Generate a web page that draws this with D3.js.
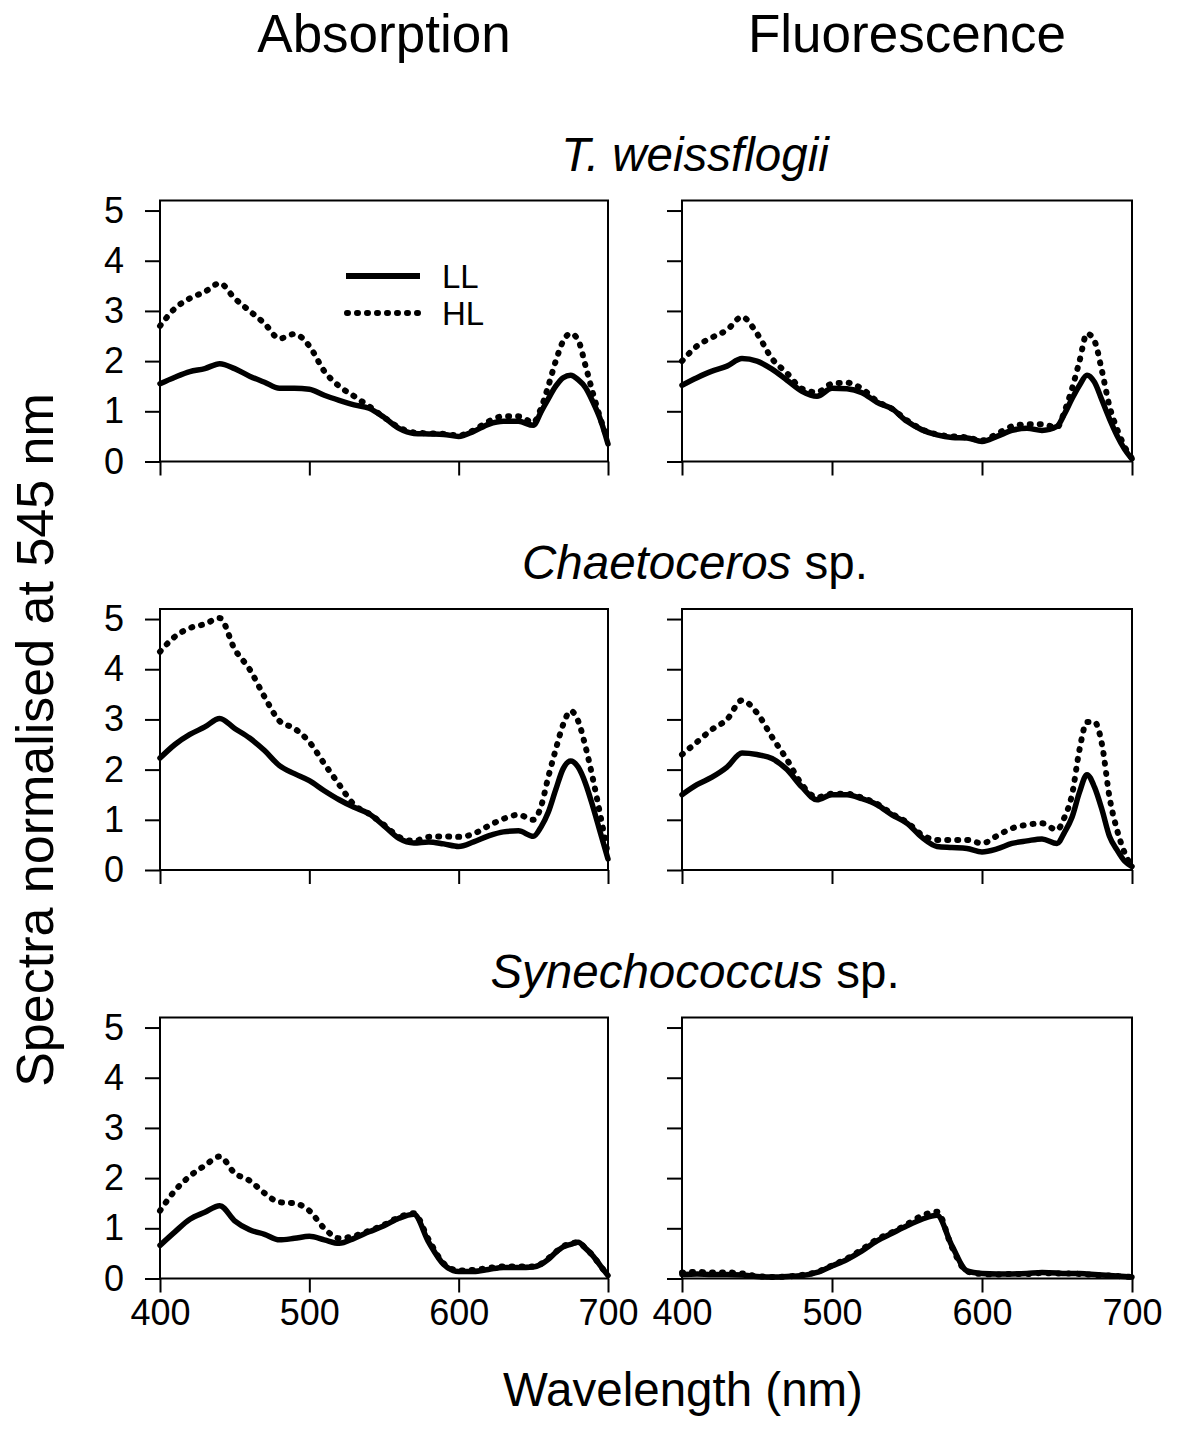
<!DOCTYPE html>
<html>
<head>
<meta charset="utf-8">
<script src="https://cdn.jsdelivr.net/npm/d3@7"></script>
<style>
  html, body { margin: 0; padding: 0; background: #fff; }
  svg { display: block; }
  text { font-family: "Liberation Sans", Arial, Helvetica, sans-serif; fill: #000; }
</style>
</head>
<body>
<svg id="chart" width="1184" height="1443"></svg>
<script>
// ---------------- data ----------------
const wavelengths = [400,410,420,430,440,450,460,470,480,490,500,510,520,530,540,550,560,570,580,590,600,610,620,630,640,650,655,660,665,670,675,680,685,690,695,700];

const columnTitles = ["Absorption", "Fluorescence"];
const species = [
  {italic: "T. weissflogii", plain: ""},
  {italic: "Chaetoceros", plain: " sp."},
  {italic: "Synechococcus", plain: " sp."}
];
const seriesNames = ["LL", "HL"];
const xTicks = [400, 500, 600, 700];
const yTicks = [0, 1, 2, 3, 4, 5];

// T. weissflogii
const twAbsLL = [1.55,1.68,1.79,1.85,1.95,1.85,1.70,1.58,1.46,1.46,1.44,1.32,1.22,1.13,1.06,0.88,0.66,0.56,0.55,0.54,0.50,0.60,0.74,0.80,0.80,0.72,0.98,1.25,1.50,1.67,1.72,1.63,1.47,1.18,0.83,0.35];
const twAbsHL = [2.70,3.05,3.25,3.38,3.55,3.25,3.00,2.75,2.45,2.54,2.30,1.80,1.50,1.30,1.10,0.88,0.68,0.58,0.56,0.55,0.52,0.62,0.80,0.90,0.90,0.78,1.05,1.50,2.00,2.40,2.55,2.42,1.90,1.35,0.85,0.42];
const twFlLL  = [1.52,1.67,1.80,1.90,2.05,2.00,1.84,1.62,1.40,1.30,1.46,1.45,1.37,1.18,1.05,0.80,0.63,0.53,0.48,0.47,0.40,0.50,0.62,0.66,0.62,0.70,0.95,1.25,1.52,1.72,1.58,1.22,0.85,0.52,0.25,0.05];
const twFlHL  = [2.00,2.30,2.47,2.62,2.88,2.55,2.05,1.76,1.45,1.38,1.55,1.57,1.45,1.20,1.05,0.82,0.64,0.54,0.50,0.48,0.42,0.55,0.70,0.74,0.74,0.68,1.00,1.45,2.00,2.55,2.40,1.80,1.10,0.65,0.30,0.06];
// Chaetoceros sp.
const chAbsLL = [2.23,2.50,2.70,2.85,3.02,2.82,2.63,2.38,2.08,1.92,1.78,1.58,1.40,1.25,1.12,0.88,0.63,0.54,0.56,0.52,0.47,0.56,0.68,0.76,0.78,0.67,0.85,1.15,1.60,2.02,2.17,2.05,1.72,1.25,0.73,0.22];
const chAbsHL = [4.35,4.65,4.82,4.90,5.02,4.40,4.00,3.45,2.97,2.82,2.55,2.12,1.70,1.30,1.12,0.90,0.66,0.58,0.66,0.67,0.66,0.72,0.88,1.02,1.10,1.00,1.25,1.85,2.40,2.90,3.17,2.97,2.45,1.80,1.07,0.30];
const chFlLL  = [1.50,1.70,1.85,2.05,2.33,2.30,2.22,2.00,1.65,1.40,1.50,1.50,1.42,1.30,1.10,0.93,0.65,0.47,0.45,0.43,0.36,0.42,0.53,0.58,0.62,0.53,0.75,1.05,1.55,1.90,1.65,1.20,0.67,0.40,0.18,0.07];
const chFlHL  = [2.30,2.55,2.80,3.00,3.38,3.13,2.65,2.20,1.70,1.45,1.52,1.52,1.44,1.32,1.12,0.95,0.70,0.60,0.60,0.60,0.53,0.68,0.83,0.90,0.93,0.80,1.05,1.50,2.40,2.95,2.95,2.50,1.45,0.80,0.35,0.07];
// Synechococcus sp.
const syAbsLL = [0.66,0.93,1.18,1.32,1.45,1.15,0.97,0.88,0.77,0.80,0.84,0.77,0.70,0.80,0.93,1.05,1.20,1.28,0.72,0.28,0.14,0.14,0.18,0.22,0.22,0.23,0.28,0.38,0.52,0.63,0.68,0.72,0.60,0.45,0.25,0.06];
const syAbsHL = [1.35,1.75,2.04,2.25,2.43,2.10,1.95,1.70,1.52,1.50,1.35,1.00,0.80,0.85,0.95,1.07,1.22,1.30,0.77,0.30,0.16,0.17,0.21,0.24,0.24,0.24,0.29,0.40,0.53,0.64,0.70,0.72,0.60,0.45,0.25,0.06];
const syFlLL  = [0.08,0.09,0.08,0.08,0.07,0.04,0.03,0.04,0.06,0.12,0.25,0.38,0.55,0.75,0.90,1.05,1.18,1.26,0.65,0.15,0.10,0.09,0.09,0.10,0.12,0.11,0.10,0.10,0.10,0.09,0.08,0.07,0.06,0.05,0.04,0.03];
const syFlHL  = [0.12,0.13,0.12,0.12,0.10,0.05,0.03,0.04,0.07,0.13,0.26,0.40,0.58,0.78,0.92,1.08,1.25,1.33,0.62,0.14,0.09,0.08,0.09,0.09,0.11,0.10,0.10,0.10,0.09,0.08,0.07,0.06,0.06,0.05,0.04,0.03];

// ---------------- layout ----------------
const colX = [[160, 608], [682, 1132]];
const rowZero = [461.5, 870, 1278.5];
const panelH = 261;           // pixel height of y range [0, 5.2]
const yMax = 5.2;

const panels = [
  {row:0, col:0, LL: twAbsLL, HL: twAbsHL},
  {row:0, col:1, LL: twFlLL,  HL: twFlHL},
  {row:1, col:0, LL: chAbsLL, HL: chAbsHL},
  {row:1, col:1, LL: chFlLL,  HL: chFlHL},
  {row:2, col:0, LL: syAbsLL, HL: syAbsHL},
  {row:2, col:1, LL: syFlLL,  HL: syFlHL}
];

const svg = d3.select("#chart");
const font = '"Liberation Sans", Arial, Helvetica, sans-serif';

// column titles
columnTitles.forEach((t, i) => {
  svg.append("text")
    .attr("x", (colX[i][0] + colX[i][1]) / 2)
    .attr("y", 52)
    .attr("text-anchor", "middle")
    .style("font-size", "53px")
    .text(t);
});

// species titles
species.forEach((s, r) => {
  const top = rowZero[r] - panelH;
  const t = svg.append("text")
    .attr("x", 695)
    .attr("y", top - 30)
    .attr("text-anchor", "middle")
    .style("font-size", "47.5px");
  t.append("tspan").style("font-style", "italic").text(s.italic);
  if (s.plain) t.append("tspan").text(s.plain);
});

const dotted = "1,9";

panels.forEach(p => {
  const x = d3.scaleLinear().domain([400, 700]).range(colX[p.col]);
  const y = d3.scaleLinear().domain([0, yMax]).range([rowZero[p.row], rowZero[p.row] - panelH]);
  const g = svg.append("g");

  // y axis
  const ya = d3.axisLeft(y).tickValues(yTicks).tickFormat(d3.format("d"))
    .tickSize(15).tickPadding(21).tickSizeOuter(0);
  const yg = g.append("g").attr("transform", `translate(${colX[p.col][0]},0)`).call(ya);
  yg.select(".domain").remove();
  yg.selectAll(".tick line").attr("stroke", "#000").attr("stroke-width", 2);
  yg.selectAll(".tick text").style("font-size", "36px").style("font-family", font);
  if (p.col === 1) yg.selectAll(".tick text").remove();

  // x axis
  const xa = d3.axisBottom(x).tickValues(xTicks).tickFormat(d3.format("d"))
    .tickSize(14).tickPadding(7).tickSizeOuter(0);
  const xg = g.append("g").attr("transform", `translate(0,${rowZero[p.row]})`).call(xa);
  xg.select(".domain").remove();
  xg.selectAll(".tick line").attr("stroke", "#000").attr("stroke-width", 2);
  xg.selectAll(".tick text").style("font-size", "36px").style("font-family", font);
  if (p.row !== 2) xg.selectAll(".tick text").remove();

  // frame
  g.append("rect")
    .attr("x", x(400)).attr("y", y(yMax))
    .attr("width", x(700) - x(400)).attr("height", y(0) - y(yMax))
    .attr("fill", "none").attr("stroke", "#000").attr("stroke-width", 2);

  const line = d3.line()
    .x((d, i) => x(wavelengths[i]))
    .y(d => y(d))
    .curve(d3.curveMonotoneX);

  g.append("path").datum(p.HL)
    .attr("d", line).attr("fill", "none").attr("stroke", "#000")
    .attr("stroke-width", 6).attr("stroke-linecap", "round")
    .attr("stroke-dasharray", dotted);
  g.append("path").datum(p.LL)
    .attr("d", line).attr("fill", "none").attr("stroke", "#000")
    .attr("stroke-width", 5.5).attr("stroke-linejoin", "round").attr("stroke-linecap", "round");
});

// legend (in first panel)
const legend = svg.append("g");
legend.append("line").attr("x1", 346).attr("x2", 420).attr("y1", 276).attr("y2", 276)
  .attr("stroke", "#000").attr("stroke-width", 6);
legend.append("line").attr("x1", 347).attr("x2", 420).attr("y1", 313).attr("y2", 313)
  .attr("stroke", "#000").attr("stroke-width", 6).attr("stroke-linecap", "round")
  .attr("stroke-dasharray", dotted);
legend.selectAll("text").data(seriesNames).join("text")
  .attr("x", 442).attr("y", (d, i) => 288 + i * 37)
  .style("font-size", "33px")
  .text(d => d);

// axis titles
svg.append("text")
  .attr("transform", "translate(53,740) rotate(-90)")
  .attr("text-anchor", "middle")
  .style("font-size", "52px")
  .text("Spectra normalised at 545 nm");

svg.append("text")
  .attr("x", 683).attr("y", 1406)
  .attr("text-anchor", "middle")
  .style("font-size", "47.5px")
  .text("Wavelength (nm)");
</script>
</body>
</html>
